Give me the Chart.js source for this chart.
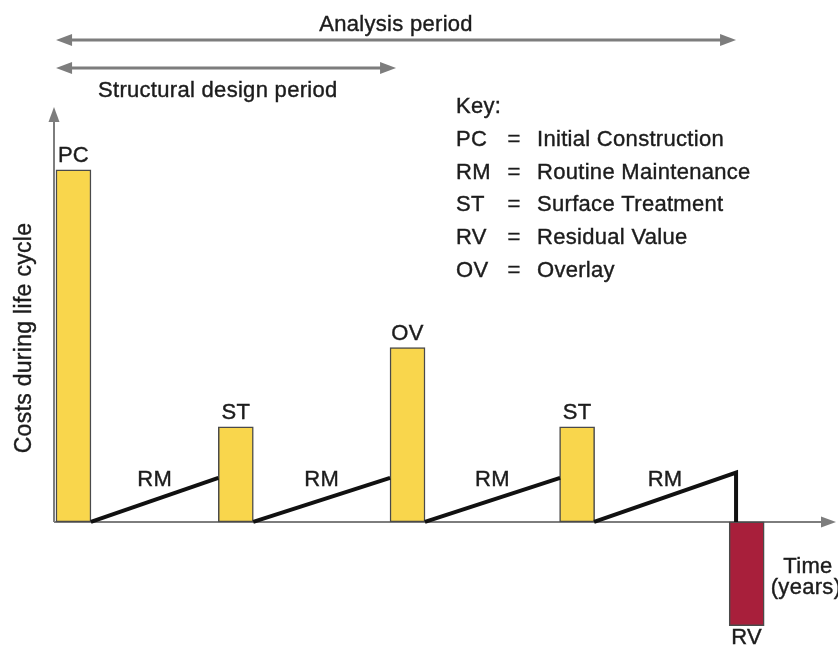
<!DOCTYPE html>
<html>
<head>
<meta charset="utf-8">
<script src="https://cdn.jsdelivr.net/npm/chart.js@4.4.1/dist/chart.umd.min.js"></script>
<style>
  body { margin: 0; background: #fff; }
  canvas { display: block; }
</style>
</head>
<body>
<canvas id="lcc" width="838" height="650"></canvas>
<script>
// cost events (time in years, cost in relative units, PC = 100)
var barLabels = ['PC', 'ST', 'OV', 'ST', 'RV'];
var barStart = [0, 9.55, 19.65, 29.65, 39.6];
var barEnd = [2.05, 11.6, 21.7, 31.65, 41.65];
var barCost = [100, 27, 49.5, 27, -29.5];

// routine maintenance ramps between events
var rmFrom = [2.05, 11.6, 21.7, 31.65];
var rmTo = [9.55, 19.65, 29.65, 40];
var rmPeak = [12.5, 12.5, 12.5, 14];

var analysisPeriod = [0, 40];
var designPeriod = [0, 20];

var keyRows = [
    ['PC', 'Initial Construction'],
    ['RM', 'Routine Maintenance'],
    ['ST', 'Surface Treatment'],
    ['RV', 'Residual Value'],
    ['OV', 'Overlay']
];

var yellow = '#F9D64C';
var red = '#A81F3B';
var gray = '#7d7d7d';
var ink = '#1c1c1c';
var font = '22px "Liberation Sans", Arial, sans-serif';

var barData = [];
for (let i = 0; i < barLabels.length; i++) {
    barData.push({ x: (barStart[i] + barEnd[i]) / 2, y: [0, barCost[i]] });
}

var datasets = [{
    type: 'bar',
    data: barData,
    backgroundColor: barCost.map(function (v) { return v < 0 ? red : yellow; }),
    borderColor: '#4a4a4a',
    borderWidth: 1.5,
    borderSkipped: false,
    barThickness: 35,
    order: 2
}];

for (let i = 0; i < rmFrom.length; i++) {
    var pts = [{ x: rmFrom[i], y: 0 }, { x: rmTo[i], y: rmPeak[i] }];
    if (i == rmFrom.length - 1) pts.push({ x: rmTo[i], y: 0 });
    datasets.push({
        type: 'line',
        data: pts,
        borderColor: '#111',
        borderWidth: 4,
        pointRadius: 0,
        tension: 0,
        fill: false,
        borderJoinStyle: 'miter',
        order: 1
    });
}

function arrowHead(ctx, tx, ty, dx, dy, len, half) {
    // dx,dy unit direction of the arrow
    ctx.beginPath();
    ctx.moveTo(tx, ty);
    ctx.lineTo(tx - dx * len - dy * half, ty - dy * len + dx * half);
    ctx.lineTo(tx - dx * len + dy * half, ty - dy * len - dx * half);
    ctx.closePath();
    ctx.fill();
}

function periodArrow(ctx, x1, x2, py) {
    ctx.lineWidth = 3;
    ctx.beginPath();
    ctx.moveTo(x1 + 10, py);
    ctx.lineTo(x2 - 10, py);
    ctx.stroke();
    arrowHead(ctx, x1, py, -1, 0, 16, 6);
    arrowHead(ctx, x2, py, 1, 0, 16, 6);
}

// text with a hairline stroke so it reads as heavy as the original
function label(ctx, txt, x, y) {
    ctx.fillText(txt, x, y);
    ctx.strokeText(txt, x, y);
}

var diagram = {
    id: 'diagram',
    beforeDatasetsDraw: function (chart) {
        var ctx = chart.ctx, area = chart.chartArea;
        var xs = chart.scales.x, ys = chart.scales.y;
        var y0 = ys.getPixelForValue(0);
        ctx.save();
        ctx.strokeStyle = gray;
        ctx.fillStyle = gray;
        ctx.lineWidth = 2;
        // axes
        ctx.beginPath();
        ctx.moveTo(area.left, y0);
        ctx.lineTo(area.left, area.top + 10);
        ctx.moveTo(area.left, y0);
        ctx.lineTo(area.right - 10, y0);
        ctx.stroke();
        arrowHead(ctx, area.left, area.top - 1, 0, -1, 15, 5.5);
        arrowHead(ctx, area.right + 1, y0, 1, 0, 15, 5.5);
        // periods
        periodArrow(ctx, xs.getPixelForValue(analysisPeriod[0]), xs.getPixelForValue(analysisPeriod[1]), 40);
        periodArrow(ctx, xs.getPixelForValue(designPeriod[0]), xs.getPixelForValue(designPeriod[1]), 68);
        ctx.restore();
    },
    afterDatasetsDraw: function (chart) {
        var ctx = chart.ctx;
        var xs = chart.scales.x, ys = chart.scales.y;
        var y0 = ys.getPixelForValue(0);
        ctx.save();
        ctx.font = font;
        ctx.fillStyle = ink;
        ctx.strokeStyle = ink;
        ctx.lineWidth = 0.4;
        ctx.letterSpacing = '0.3px';
        ctx.textBaseline = 'alphabetic';

        // period titles
        ctx.textAlign = 'center';
        var ax = (xs.getPixelForValue(analysisPeriod[0]) + xs.getPixelForValue(analysisPeriod[1])) / 2;
        label(ctx, 'Analysis period', ax, 31);
        ctx.textAlign = 'left';
        label(ctx, 'Structural design period', 98, 97);

        // bar labels
        ctx.textAlign = 'center';
        for (let i = 0; i < barLabels.length; i++) {
            var cx = xs.getPixelForValue((barStart[i] + barEnd[i]) / 2);
            if (barCost[i] >= 0) {
                label(ctx, barLabels[i], cx, ys.getPixelForValue(barCost[i]) - 8);
            } else {
                label(ctx, barLabels[i], cx, ys.getPixelForValue(barCost[i]) + 18);
            }
        }

        // RM labels
        for (let i = 0; i < rmFrom.length; i++) {
            var mx = xs.getPixelForValue((rmFrom[i] + rmTo[i]) / 2);
            label(ctx, 'RM', mx, y0 - 36);
        }

        // time label
        label(ctx, 'Time', 808, 573);
        label(ctx, '(years)', 806, 594);

        // key
        ctx.textAlign = 'left';
        label(ctx, 'Key:', 456, 113);
        for (let i = 0; i < keyRows.length; i++) {
            var by = 146 + i * 32.7;
            ctx.textAlign = 'left';
            label(ctx, keyRows[i][0], 456, by);
            ctx.textAlign = 'center';
            label(ctx, '=', 514, by);
            ctx.textAlign = 'left';
            label(ctx, keyRows[i][1], 537, by);
        }

        // y axis title
        ctx.font = '23px "Liberation Sans", Arial, sans-serif';
        ctx.translate(25, 338);
        ctx.rotate(-Math.PI / 2);
        ctx.textAlign = 'center';
        ctx.textBaseline = 'middle';
        label(ctx, 'Costs during life cycle', 0, 0);
        ctx.restore();
    }
};

var chart = new Chart(document.getElementById('lcc').getContext('2d'), {
    type: 'bar',
    data: { datasets: datasets },
    options: {
        responsive: false,
        animation: false,
        layout: { padding: { left: 54, right: 3, top: 108, bottom: 0 } },
        plugins: { legend: { display: false }, tooltip: { enabled: false } },
        scales: {
            x: { type: 'linear', min: -0.12, max: 45.82, offset: false, display: false },
            y: { type: 'linear', min: -36.4, max: 117.6, display: false }
        }
    },
    plugins: [diagram]
});
</script>
</body>
</html>
